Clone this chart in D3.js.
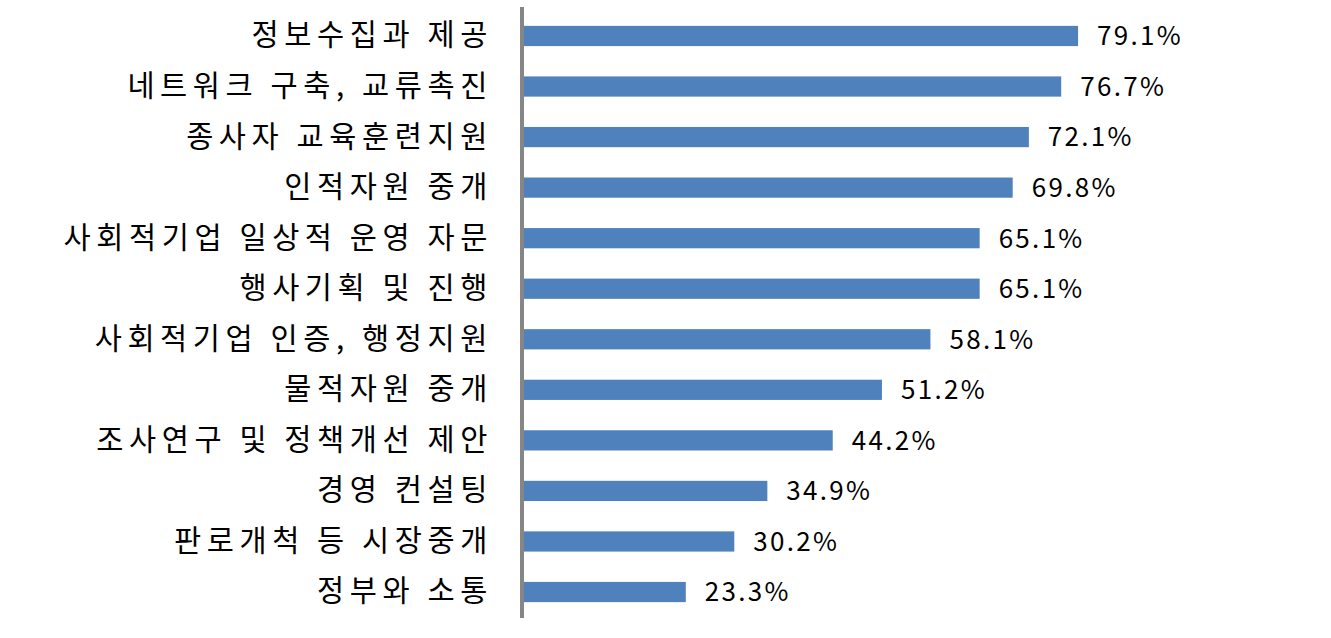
<!DOCTYPE html>
<html>
<head>
<meta charset="utf-8">
<script src="https://cdn.jsdelivr.net/npm/d3@7"></script>
<style>
  body { margin: 0; background: #fff; }
  svg { display: block; }
</style>
</head>
<body>
<div id="chart"></div>
<script>
// Data
const categories = [
    "정보수집과 제공",
    "네트워크 구축, 교류촉진",
    "종사자 교육훈련지원",
    "인적자원 중개",
    "사회적기업 일상적 운영 자문",
    "행사기획 및 진행",
    "사회적기업 인증, 행정지원",
    "물적자원 중개",
    "조사연구 및 정책개선 제안",
    "경영 컨설팅",
    "판로개척 등 시장중개",
    "정부와 소통"
];
const values = [79.1, 76.7, 72.1, 69.8, 65.1, 65.1, 58.1, 51.2, 44.2, 34.9, 30.2, 23.3];

const width = 1331, height = 638;
const margin = { top: 10.7, right: 106, bottom: 20.7, left: 522 };

const svg = d3.select("#chart")
    .append("svg")
    .attr("width", width)
    .attr("height", height);

const x = d3.scaleLinear()
    .domain([0, 100])
    .range([margin.left, width - margin.right]);

const y = d3.scaleBand()
    .domain(categories)
    .range([margin.top, height - margin.bottom])
    .paddingInner(0.6)
    .paddingOuter(0.3);

const data = categories.map((c, i) => ({ cat: c, val: values[i] }));

// Bars
svg.selectAll("rect.bar")
    .data(data)
    .enter()
    .append("rect")
    .attr("class", "bar")
    .attr("x", x(0))
    .attr("y", d => y(d.cat))
    .attr("width", d => x(d.val) - x(0))
    .attr("height", y.bandwidth())
    .attr("fill", "#4f81bd");

// Value labels
svg.selectAll("text.val")
    .data(data)
    .enter()
    .append("text")
    .attr("class", "val")
    .attr("x", d => x(d.val) + 19)
    .attr("y", d => y(d.cat) + y.bandwidth() / 2)
    .attr("dy", "0.36em")
    .attr("font-family", "'Noto Sans CJK KR', 'Noto Sans', sans-serif")
    .attr("font-size", 26)
    .attr("letter-spacing", "2.3px")
    .attr("fill", "#000")
    .text(d => d.val.toFixed(1) + "%");

// Category axis
const axis = svg.append("g")
    .attr("transform", `translate(${margin.left},0)`)
    .call(d3.axisLeft(y).tickSize(0).tickPadding(29));

axis.select(".domain").remove();
axis.selectAll("text")
    .attr("font-family", "'Noto Sans CJK KR', sans-serif")
    .attr("font-size", 29.5)
    .attr("letter-spacing", "5.6px")
    .attr("fill", "#000");

// Vertical axis line
svg.append("line")
    .attr("x1", margin.left)
    .attr("x2", margin.left)
    .attr("y1", 7)
    .attr("y2", 618)
    .attr("stroke", "#868686")
    .attr("stroke-width", 4);
</script>
</body>
</html>
